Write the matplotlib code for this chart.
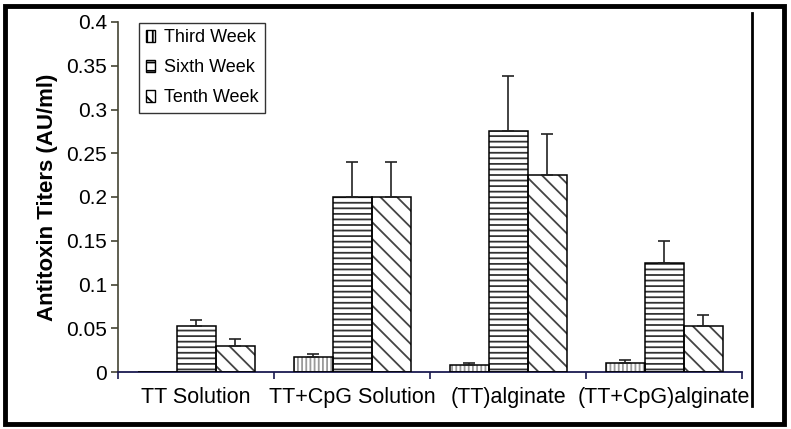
import matplotlib
matplotlib.use("Agg")
import matplotlib.pyplot as plt
import numpy as np
from matplotlib.patches import Rectangle, Patch
from matplotlib.lines import Line2D

plt.rcParams['font.family'] = ['Liberation Sans', 'DejaVu Sans']
plt.rcParams['hatch.linewidth'] = 1.3

groups = ["TT Solution", "TT+CpG Solution", "(TT)alginate", "(TT+CpG)alginate"]
series = ["Third Week", "Sixth Week", "Tenth Week"]
third = [0.0, 0.017, 0.008, 0.010]
third_err = [0.0, 0.004, 0.002, 0.004]
sixth = [0.053, 0.200, 0.275, 0.125]
sixth_err = [0.006, 0.040, 0.063, 0.025]
tenth = [0.030, 0.200, 0.225, 0.053]
tenth_err = [0.008, 0.040, 0.047, 0.012]
yticks = [0, 0.05, 0.1, 0.15, 0.2, 0.25, 0.3, 0.35, 0.4]

fig = plt.figure(figsize=(7.91, 4.29), dpi=100)
ax = fig.add_axes([118/791, 1-372/429, 624/791, 350/429])

x = np.arange(len(groups)) + 0.5
w = 0.25
hatches = ['||||', '---', '\\\\']
hcolors = ['#9a9a9a', '#333333', '#444444']
values = [third, sixth, tenth]
errs = [third_err, sixth_err, tenth_err]

for k in range(3):
    pos = x + (k - 1) * w
    vals = np.array(values[k])
    ax.bar(pos, vals, w, color='white', edgecolor=hcolors[k], hatch=hatches[k], linewidth=0, zorder=2)
    ax.bar(pos, vals, w, color='none', edgecolor='black', linewidth=1.1, zorder=3)
    mask = vals > 0
    ax.errorbar(pos[mask], vals[mask], yerr=[np.zeros(mask.sum()), np.array(errs[k])[mask]],
                fmt='none', ecolor='#222222', elinewidth=1.2, capsize=4, capthick=1.2, zorder=4)

ax.set_xlim(0, 4)
ax.set_ylim(0, 0.4)
ax.set_yticks(yticks)
ax.set_yticklabels(["0", "0.05", "0.1", "0.15", "0.2", "0.25", "0.3", "0.35", "0.4"], fontsize=15)
ax.set_xticks([0, 1, 2, 3, 4])
ax.set_xticklabels([])
ax.set_xticks(x, minor=True)
ax.set_xticklabels(groups, minor=True, fontsize=15.5)
ax.tick_params(axis='x', which='minor', length=0, pad=11)
ax.tick_params(axis='x', which='major', direction='out', length=5, color='#1a1a50', width=1.2)
ax.tick_params(axis='y', direction='out', length=5, width=1.2, color='#444433', pad=3)
ax.spines['top'].set_visible(False)
ax.spines['right'].set_visible(False)
ax.spines['bottom'].set_color('#1a1a50')
ax.spines['bottom'].set_linewidth(1.3)
ax.spines['left'].set_color('#444433')
ax.spines['left'].set_linewidth(1.2)

ax.set_ylabel("Antitoxin Titers (AU/ml)", fontsize=16, fontweight='bold', labelpad=6)

handles = [Patch(facecolor='white', edgecolor='black', hatch='|||', linewidth=1),
           Patch(facecolor='white', edgecolor='black', hatch='--', linewidth=1),
           Patch(facecolor='white', edgecolor='black', hatch='\\\\', linewidth=1)]
leg = fig.legend(handles, series, loc='upper left', bbox_to_anchor=(139/791, 1-23/429),
                 borderaxespad=0, fontsize=13, frameon=True, fancybox=False, edgecolor='black',
                 handlelength=0.55, handleheight=0.6, handletextpad=0.45,
                 labelspacing=0.72, borderpad=0.36)
leg.get_frame().set_linewidth(1.0)

# right vertical line and outer frame
fig.add_artist(Line2D([752/791, 752/791], [1-13/429, 1-406/429], color='black', lw=2, zorder=10))
fig.add_artist(Rectangle((5/791, 5/429), 779/791, 418/429, fill=False, edgecolor='black',
                         lw=3.5, transform=fig.transFigure, zorder=10))

fig.savefig("out.png", dpi=100)
